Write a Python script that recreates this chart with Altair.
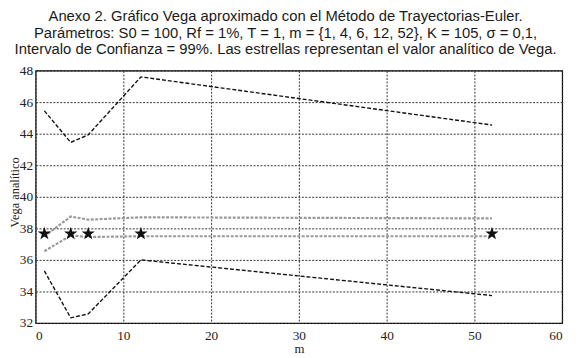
import altair as alt
import pandas as pd

m_vals = [1, 4, 6, 12, 52]
upper_black = [45.45, 43.45, 43.93, 47.6, 44.55]
lower_black = [35.3, 32.33, 32.58, 36.0, 33.74]
upper_gray = [37.5, 38.75, 38.55, 38.7, 38.63]
lower_gray = [36.55, 37.55, 37.45, 37.5, 37.5]
vega_analytic = [37.66, 37.66, 37.66, 37.66, 37.66]

x_ticks = [0, 10, 20, 30, 40, 50, 60]
y_ticks = [32, 34, 36, 38, 40, 42, 44, 46, 48]

rows = []
for name, vals in [("ub", upper_black), ("lb", lower_black), ("ug", upper_gray), ("lg", lower_gray)]:
    for m, v in zip(m_vals, vals):
        rows.append({"m": m, "v": v, "s": name})
df = pd.DataFrame(rows)
stars = pd.DataFrame({"m": m_vals, "v": vega_analytic})

x = alt.X("m:Q", title="m", scale=alt.Scale(domain=[0, 60], nice=False),
          axis=alt.Axis(values=x_ticks, labelOverlap=False))
y = alt.Y("v:Q", title="Vega analítico", scale=alt.Scale(domain=[32, 48], nice=False, zero=False),
          axis=alt.Axis(values=y_ticks, labelOverlap=False))

black = alt.Chart(df).transform_filter(alt.FieldOneOfPredicate(field="s", oneOf=["ub", "lb"])).mark_line(
    color="#111111", strokeWidth=1.4, strokeDash=[4, 2]
).encode(x=x, y=y, detail="s:N")

gray = alt.Chart(df).transform_filter(alt.FieldOneOfPredicate(field="s", oneOf=["ug", "lg"])).mark_line(
    color="#999999", strokeWidth=2.2, strokeDash=[3, 1.5]
).encode(x=x, y=y, detail="s:N")

star_path = "M0,-1L0.2245,-0.309L0.951,-0.309L0.363,0.118L0.588,0.809L0,0.382L-0.588,0.809L-0.363,0.118L-0.951,-0.309L-0.2245,-0.309Z"
star = alt.Chart(stars).mark_point(shape=star_path, filled=True, color="#111111", size=200, opacity=1).encode(x=x, y=y)

title = alt.TitleParams(
    text=["Anexo 2. Gráfico Vega aproximado con el Método de Trayectorias-Euler.",
          "Parámetros: S0 = 100, Rf = 1%, T = 1, m = {1, 4, 6, 12, 52}, K = 105, σ = 0,1,",
          "Intervalo de Confianza = 99%. Las estrellas representan el valor analítico de Vega."],
    font="Liberation Sans", fontSize=15, fontWeight="normal", color="#1a1a1a",
    lineHeight=16.5, offset=7, dx=-13.5, anchor="middle",
)

chart = (black + gray + star).properties(
    width=534, height=256, title=title,
    autosize=alt.AutoSizeParams(type="none"),
    padding={"left": 28, "top": 61, "right": 10, "bottom": 33},
).configure_view(stroke="#000000", strokeWidth=1.2).configure_axis(
    grid=True, gridColor="#333333", gridDash=[2, 1.5], gridWidth=1, gridOpacity=1,
    domain=False, ticks=False,
    labelFont="Liberation Serif", labelFontSize=13.5, labelColor="#222222",
    titleFont="Liberation Serif", titleFontSize=12.5, titleFontWeight="normal", titleColor="#222222",
).configure_axisX(
    labelPadding=6, titleFontSize=13, titleY=30, titleBaseline="alphabetic",
).configure_axisY(
    labelPadding=3, titleX=-17, titleY=123, titleBaseline="alphabetic", titleAngle=270,
)

chart.save("out.html", embed_options={"renderer": "svg", "actions": False})
